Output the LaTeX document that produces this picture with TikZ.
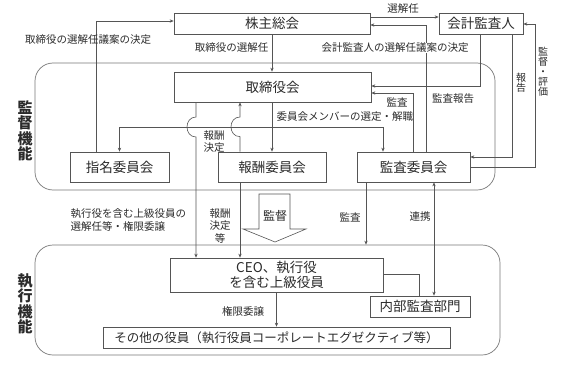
\documentclass[tikz,border=0pt]{standalone}
\usepackage{fontspec}
\setmainfont{Noto Sans CJK JP}
\usetikzlibrary{arrows.meta}
\definecolor{lngray}{HTML}{555555}
\definecolor{txtdark}{HTML}{2B2B2B}
\definecolor{rgngray}{HTML}{777777}

\begin{document}
\begin{tikzpicture}[x=1pt, y=-1pt,
  >={Stealth[length=4pt, width=3.4pt]},
  box/.style={draw=lngray, line width=0.7pt, fill=white, text=txtdark,
    font=\fontsize{13.5}{15.5}\selectfont, inner sep=0pt, align=center},
  lbl/.style={text=txtdark, font=\fontsize{10.5}{12.5}\selectfont, inner sep=0.5pt},
  vlbl/.style={text=txtdark, font=\fontsize{10}{10}\selectfont, align=center, inner sep=0pt},
  side/.style={text=txtdark, font=\fontsize{15}{15.5}\selectfont\bfseries, align=center, inner sep=0pt},
  conn/.style={lngray, line width=0.6pt},
  region/.style={draw=rgngray, line width=0.7pt, rounded corners=18pt, inner sep=0pt}
]

\useasboundingbox (0,0) rectangle (578,364);

% =====================================================
% Regions: supervision and execution
% =====================================================
\node[region, minimum width=460pt, minimum height=127pt] (kantoku) at (265,126.5) {};
\node[region, minimum width=465pt, minimum height=110pt] (shikko) at (267.5,300) {};
\node[side] at (25,131) {監\\督\\機\\能};
\node[side] at (25,304) {執\\行\\機\\能};

% =====================================================
% Boxes
% =====================================================
\node[box, minimum width=196pt, minimum height=21pt] (kabu) at (272,23.5) {株主総会};
\node[box, minimum width=84pt, minimum height=21pt] (kaikei) at (481,23.5) {会計監査人};
\node[box, minimum width=197pt, minimum height=30pt] (tori) at (272.5,87) {取締役会};
\node[box, minimum width=99pt, minimum height=30pt] (shimei) at (119.5,167) {指名委員会};
\node[box, minimum width=108pt, minimum height=30pt] (hoshu) at (272,167) {報酬委員会};
\node[box, minimum width=113pt, minimum height=30pt] (kansa) at (413.5,167) {監査委員会};
\node[box, minimum width=213pt, minimum height=34pt] (ceo) at (276.5,275) {CEO、執行役\\を含む上級役員};
\node[box, minimum width=100pt, minimum height=21pt] (naibu) at (420,306.5) {内部監査部門};
\node[box, minimum width=347pt, minimum height=21pt, font=\fontsize{12.5}{14}\selectfont] (sonota) at (276.5,337.5) {その他の役員（執行役員コーポレートエグゼクティブ等）};

% bend points
\coordinate (c1) at (96,21);
\coordinate (c3) at (0,17);
\coordinate (c4) at (426,25);
\coordinate (c5) at (480,86);
\coordinate (c6) at (413,93);
\coordinate (c7) at (512,157);
\coordinate (c8) at (535,167);
\coordinate (c8t) at (535,24);
\coordinate (mline) at (0,127);
\coordinate (mR) at (383,127);
\coordinate (hopA) at (196,117);
\coordinate (hopB) at (240,117);
\coordinate (kl) at (366,0);
\coordinate (rk) at (434,0);
\coordinate (ci) at (419,274);

% =====================================================
% Shareholders / auditor
% =====================================================
\draw[conn, ->] (shimei.north -| c1) |- (kabu.west |- c1);
\node[lbl] at (88,40) {取締役の選解任議案の決定};

\draw[conn, ->] (kabu.south) -- (kabu.south |- tori.north);
\node[lbl, anchor=east] at (269,48) {取締役の選解任};

\draw[conn, ->] (kabu.east |- c3) -- (kaikei.west |- c3);
\node[lbl] at (403,9) {選解任};

\draw[conn, ->] (kansa.north -| c4) |- (kabu.east |- c4);
\node[lbl, fill=white] at (395,48) {会計監査人の選解任議案の決定};

\draw[conn, ->] (kaikei.south -| c5) |- (tori.east |- c5);
\node[lbl] at (453,99) {監査報告};

\draw[conn, ->] (kansa.north -| c6) |- (tori.east |- c6);
\node[lbl] at (397,102) {監査};

\draw[conn, ->] (kaikei.south -| c7) |- (kansa.east |- c7);
\node[vlbl] at (521,83) {報\\告};

\draw[conn, ->] (kansa.east |- c8) -- (c8) -- (c8t) -- (kaikei.east |- c8t);
\node[vlbl] at (543,72) {監\\督\\・\\評\\価};

% =====================================================
% Board and committees
% =====================================================
\draw[conn, ->] (tori.south -| hoshu.north) -- (hoshu.north);
\draw[conn, ->] (hoshu.north |- mline) -| (shimei.north);
\draw[conn, ->] (hoshu.north |- mline) -| (kansa.north -| mR);
\node[lbl, anchor=west] at (276,117) {委員会メンバーの選定・解職};

% line jumps over the member line
\draw[conn, ->] (tori.south -| hopA) -- (hopA)
  .. controls +(-12,0) and +(-12,0) .. ++(0,20) -- (ceo.north -| hopA);
\draw[conn, ->] (hoshu.north -| hopB) -- ++(0,-15)
  .. controls +(-12,0) and +(-12,0) .. (hopB) -- (tori.south -| hopB);
\node[lbl, align=center, font=\fontsize{10.5}{12}\selectfont] at (214,142) {報酬\\決定};

% =====================================================
% Execution side
% =====================================================
\node[lbl, anchor=west, align=left] at (70,220) {執行役を含む上級役員の\\選解任等・権限委譲};

\draw[conn, ->] (hoshu.south -| hopB) -- (ceo.north -| hopB);
\node[lbl, align=center, font=\fontsize{10.5}{12.5}\selectfont] at (220,226) {報酬\\決定\\等};

% big supervision arrow
\draw[lngray, line width=0.6pt, fill=white]
  (259,194) -- (290,194) -- (290,229) -- (306,229) -- (275,242)
  -- (243,229) -- (259,229) -- cycle;
\node[lbl, font=\fontsize{12}{14}\selectfont] at (275,216) {監督};

\draw[conn, ->] (kansa.south -| kl) -- (kl |- shikko.north);
\node[lbl] at (350,217) {監査};

\draw[conn, <->] (naibu.north -| rk) -- (kansa.south -| rk);
\node[lbl] at (420,217) {連携};

\draw[conn] (ceo.east |- ci) -| (naibu.north -| ci);

\draw[conn, ->] (ceo.south) -- (ceo.south |- sonota.north);
\node[lbl] at (243,311) {権限委譲};

\end{tikzpicture}
\end{document}
